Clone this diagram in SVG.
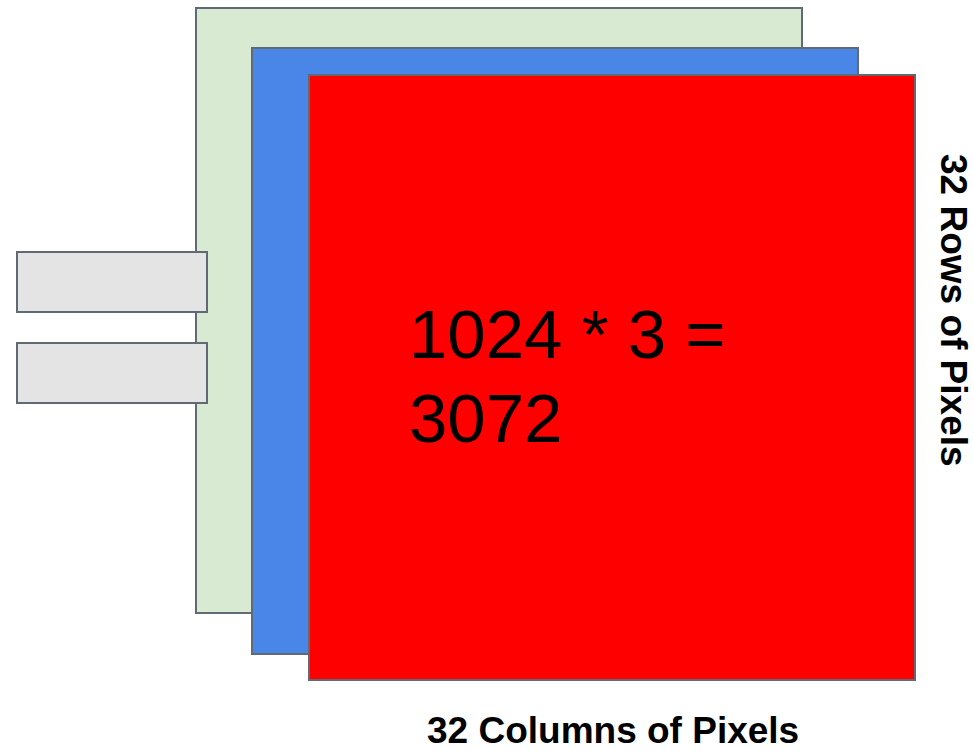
<svg xmlns="http://www.w3.org/2000/svg" width="974" height="751" viewBox="0 0 974 751">
<style>
.box{stroke:#5f6a74;stroke-width:2}
.big{font-family:"Liberation Sans",Arial,sans-serif;font-size:69px;fill:#000}
.lbl{font-family:"Liberation Sans",Arial,sans-serif;font-size:37px;font-weight:bold;fill:#000}
</style>
<rect width="974" height="751" fill="#ffffff"/>
<g id="layer-green"><rect class="box" x="196" y="8" width="606" height="605" fill="#d9ead3"/></g>
<g id="layer-blue"><rect class="box" x="252" y="48" width="606" height="606" fill="#4a86e8"/></g>
<g id="layer-red"><rect class="box" x="309" y="75" width="606" height="605" fill="#ff0000"/>
<text class="big" x="409" y="358">1024 * 3 =</text>
<text class="big" x="409" y="442">3072</text></g>
<g id="bar1"><rect class="box" x="17" y="252" width="190" height="60" fill="#e4e4e4"/></g>
<g id="bar2"><rect class="box" x="17" y="343" width="190" height="60" fill="#e4e4e4"/></g>
<g id="label-cols"><text class="lbl" x="427" y="743">32 Columns of Pixels</text></g>
<g id="label-rows"><text class="lbl" transform="translate(941,154) rotate(90)">32 Rows of Pixels</text></g>
<g id="connectors"></g>
</svg>
